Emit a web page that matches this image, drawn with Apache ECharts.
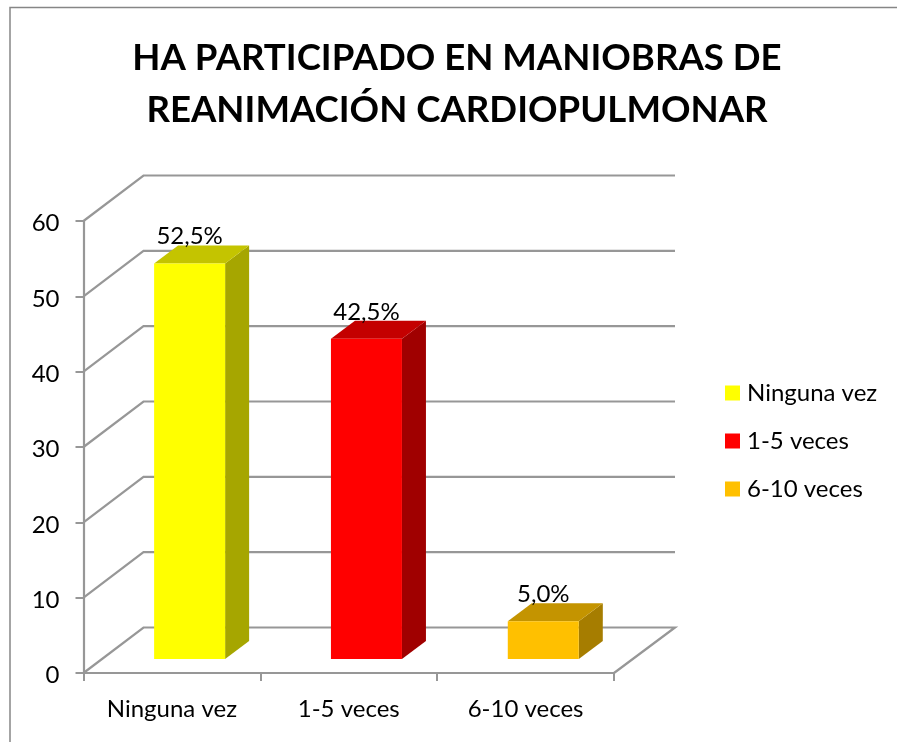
<!DOCTYPE html>
<html>
<head>
<meta charset="utf-8">
<style>html,body{margin:0;padding:0;background:#fff}#c{width:897px;height:742px}</style>
<script src="https://cdn.jsdelivr.net/npm/echarts@6/dist/echarts.min.js"></script>
</head>
<body>
<div id="c"></div>
<script>
const categories = ['Ninguna vez', '1-5 veces', '6-10 veces'];
const values = [52.5, 42.5, 5.0];
const valueLabels = ['52,5%', '42,5%', '5,0%'];
const yTicks = [0, 10, 20, 30, 40, 50, 60];
const frontColors = ['#FFFF00', '#FF0000', '#FFC000'];
const topColors = ['#C4C400', '#C40000', '#C49400'];
const sideColors = ['#A6A600', '#A00000', '#A67D00'];

const FONT = 'Lato';
const AXIS = '#979797';
const WALL = [60, -45.5];
const DEPTH = [24, -18];
const BAR_SHIFT = [17.7, -14];
const BAR_W = 71;

const chart = echarts.init(document.getElementById('c'), null, {renderer: 'canvas'});

function renderGrid(params, api) {
  const t = api.value(1);
  const cs = params.coordSys;
  const y = api.coord([0, t])[1];
  const x0 = cs.x, x1 = cs.x + cs.width;
  const style = {stroke: AXIS, lineWidth: 2.2, fill: null};
  const pts = t === 0
    ? [[x0, y], [x0 + WALL[0], y + WALL[1]], [x1 + WALL[0] + 1, y + WALL[1]], [x1, y]]
    : [[x0, y], [x0 + WALL[0], y + WALL[1]], [x1 + WALL[0] + 1, y + WALL[1]]];
  return {type: 'polyline', shape: {points: pts}, style: style, silent: true};
}

function renderBar(i) {
  return function (params, api) {
    const p = api.coord([api.value(0), api.value(1)]);
    const base = api.coord([api.value(0), 0]);
    const l = p[0] + BAR_SHIFT[0] - BAR_W / 2, r = l + BAR_W;
    const t = p[1] + BAR_SHIFT[1], b = base[1] + BAR_SHIFT[1];
    const dx = DEPTH[0], dy = DEPTH[1];
    return {
      type: 'group',
      children: [
        {type: 'polygon', shape: {points: [[r, t], [r + dx, t + dy], [r + dx, b + dy], [r, b]]}, style: {fill: sideColors[i]}},
        {type: 'polygon', shape: {points: [[l, t], [r, t], [r + dx, t + dy], [l + dx, t + dy]]}, style: {fill: topColors[i]}},
        {type: 'rect', shape: {x: l, y: t, width: BAR_W, height: b - t}, style: {fill: frontColors[i]}},
        {type: 'text', style: {text: valueLabels[i], x: l + BAR_W / 2, y: t - 27, align: 'center', verticalAlign: 'middle',
          font: '24px ' + FONT, fill: '#000000'}, z2: 10}
      ]
    };
  };
}

const series = [{
  type: 'custom',
  name: 'grid',
  coordinateSystem: 'cartesian2d',
  data: yTicks.map(t => [categories[0], t]),
  encode: {x: 0, y: 1},
  renderItem: renderGrid,
  clip: false,
  silent: true,
  z: 1
}];
categories.forEach((c, i) => {
  series.push({
    type: 'custom',
    name: c,
    coordinateSystem: 'cartesian2d',
    data: [[c, values[i]]],
    encode: {x: 0, y: 1},
    renderItem: renderBar(i),
    itemStyle: {color: frontColors[i]},
    clip: false,
    z: 3
  });
});

chart.setOption({
  animation: false,
  backgroundColor: '#ffffff',
  title: {
    text: 'HA PARTICIPADO EN MANIOBRAS DE\nREANIMACIÓN CARDIOPULMONAR',
    left: 452, top: 27, textAlign: 'center',
    textStyle: {fontFamily: FONT, fontWeight: 'bold', fontSize: 36.6, lineHeight: 52, color: '#000000'}
  },
  legend: {
    data: categories.map(c => ({name: c, icon: 'rect'})),
    orient: 'vertical', left: 720, top: 376,
    itemWidth: 15, itemHeight: 15, itemGap: 24,
    textStyle: {fontFamily: FONT, fontSize: 24, lineHeight: 24, color: '#000000', padding: [0, 0, 0, 2]}
  },
  grid: {left: 83.5, top: 221, width: 530.5, height: 452, containLabel: false},
  xAxis: {
    type: 'category', data: categories,
    axisLine: {lineStyle: {color: AXIS, width: 2.2}},
    axisTick: {show: true, alignWithLabel: false, length: 8, lineStyle: {color: AXIS, width: 2}},
    axisLabel: {fontFamily: FONT, fontSize: 24, color: '#000000', margin: 24},
    splitLine: {show: false}
  },
  yAxis: {
    type: 'value', min: 0, max: 60, interval: 10,
    axisLine: {show: true, lineStyle: {color: AXIS, width: 2.2}},
    axisTick: {show: true, length: 8, lineStyle: {color: AXIS, width: 2}},
    axisLabel: {fontFamily: FONT, fontSize: 24, color: '#000000', margin: 24, verticalAlign: 'top', lineHeight: 5},
    splitLine: {show: false}
  },
  graphic: [{
    type: 'polyline', silent: true,
    shape: {points: [[10, 742], [10, 7.5], [897, 7.5]]},
    style: {stroke: '#868686', lineWidth: 1.5, fill: null}
  }],
  series: series
});
</script>
</body>
</html>
